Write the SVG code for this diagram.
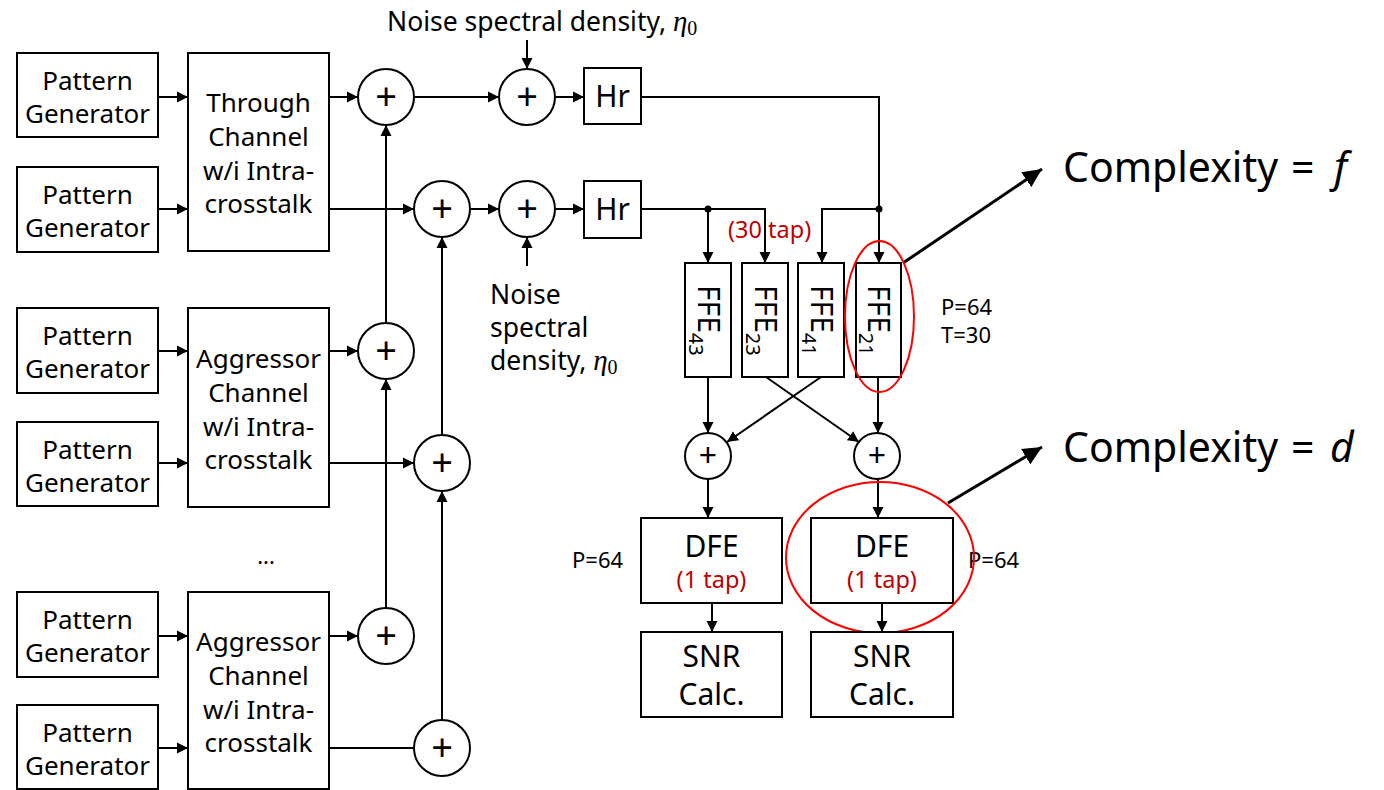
<svg xmlns="http://www.w3.org/2000/svg" width="1384" height="790" viewBox="0 0 1384 790">
<style>
text{font-family:"Noto Sans","Open Sans","DejaVu Sans",sans-serif;fill:#000}
.box{fill:#fff;stroke:#000;stroke-width:2}
.sum{fill:#fff;stroke:#000;stroke-width:2}
.t26{font-size:26px;text-anchor:middle}
.t30{font-size:30px;text-anchor:middle}
.plus{font-size:38px;text-anchor:middle}
.plusS{font-size:32px;text-anchor:middle}
.lbl{font-size:26.5px}
.red{fill:#C00000;font-size:23.5px}
.p{font-size:22px}
.ln{fill:none;stroke:#000;stroke-width:2}
.arr{marker-end:url(#ah)}
.big{fill:none;stroke:#000;stroke-width:3;marker-end:url(#ahb)}
.ell{fill:none;stroke:#FF0000;stroke-width:2}
.eta{font-family:"Liberation Serif","DejaVu Serif",serif;font-style:italic;font-size:29px}
.sub0{font-family:"Liberation Serif","DejaVu Serif",serif;font-size:20px}
.cx{font-size:41px}
</style>
<defs>
<marker id="ah" markerUnits="userSpaceOnUse" markerWidth="12" markerHeight="12" refX="11" refY="6" orient="auto">
<path d="M0,0.5 L11,6 L0,11.5 z" fill="#000"/>
</marker>
<marker id="ahb" markerUnits="userSpaceOnUse" markerWidth="20" markerHeight="18" refX="19" refY="9" orient="auto">
<path d="M0,0 L19,9 L0,18 z" fill="#000"/>
</marker>
</defs>

<g id="connectors">
<line class="ln arr" x1="158" y1="97" x2="188" y2="97"/>
<line class="ln arr" x1="158" y1="209" x2="188" y2="209"/>
<line class="ln arr" x1="158" y1="351" x2="188" y2="351"/>
<line class="ln arr" x1="158" y1="463" x2="188" y2="463"/>
<line class="ln arr" x1="158" y1="636" x2="188" y2="636"/>
<line class="ln arr" x1="158" y1="748" x2="188" y2="748"/>
<line class="ln arr" x1="329" y1="97" x2="358" y2="97"/>
<line class="ln arr" x1="329" y1="209" x2="414" y2="209"/>
<line class="ln arr" x1="329" y1="351" x2="358" y2="351"/>
<line class="ln arr" x1="329" y1="463" x2="414" y2="463"/>
<line class="ln arr" x1="329" y1="636" x2="358" y2="636"/>
<line class="ln" x1="329" y1="748" x2="414" y2="748"/>
<line class="ln arr" x1="386" y1="323" x2="386" y2="125"/>
<line class="ln arr" x1="386" y1="608" x2="386" y2="379"/>
<line class="ln arr" x1="442" y1="435" x2="442" y2="237"/>
<line class="ln arr" x1="442" y1="720" x2="442" y2="491"/>
<line class="ln arr" x1="414" y1="97" x2="499" y2="97"/>
<line class="ln arr" x1="470" y1="209" x2="499" y2="209"/>
<line class="ln arr" x1="527" y1="40" x2="527" y2="69"/>
<line class="ln arr" x1="527" y1="266" x2="527" y2="237"/>
<line class="ln arr" x1="555" y1="97" x2="584" y2="97"/>
<line class="ln arr" x1="555" y1="209" x2="584" y2="209"/>
<path class="ln arr" d="M641,97 H879 V263"/>
<path class="ln arr" d="M641,209 H708 V263"/>
<path class="ln arr" d="M708,209 H765 V263"/>
<path class="ln arr" d="M879,209 H822 V263"/>
<circle cx="708" cy="209" r="3.5" fill="#000"/>
<circle cx="879" cy="209" r="3.5" fill="#000"/>
<line class="ln arr" x1="708" y1="377" x2="708" y2="433"/>
<line class="ln arr" x1="878" y1="377" x2="878" y2="433"/>
<line class="ln arr" x1="766" y1="377" x2="859" y2="442"/>
<line class="ln arr" x1="821" y1="377" x2="727" y2="442"/>
<line class="ln arr" x1="708" y1="479" x2="708" y2="518"/>
<line class="ln arr" x1="878" y1="479" x2="878" y2="518"/>
<line class="ln arr" x1="712" y1="603" x2="712" y2="632"/>
<line class="ln arr" x1="882" y1="603" x2="882" y2="632"/>
<line class="big" x1="903" y1="263" x2="1042" y2="169"/>
<line class="big" x1="948" y1="503" x2="1042" y2="447"/>
</g>

<g id="pg1"><rect class="box" x="17" y="53" width="141" height="84"/><text class="t26" x="87.5" y="89.5">Pattern</text><text class="t26" x="87.5" y="122.5">Generator</text></g>
<g id="pg2"><rect class="box" x="17" y="167" width="141" height="85"/><text class="t26" x="87.5" y="204">Pattern</text><text class="t26" x="87.5" y="237">Generator</text></g>
<g id="pg3"><rect class="box" x="17" y="308" width="141" height="85"/><text class="t26" x="87.5" y="345">Pattern</text><text class="t26" x="87.5" y="378">Generator</text></g>
<g id="pg4"><rect class="box" x="17" y="422" width="141" height="84"/><text class="t26" x="87.5" y="458.5">Pattern</text><text class="t26" x="87.5" y="491.5">Generator</text></g>
<g id="pg5"><rect class="box" x="17" y="592" width="141" height="85"/><text class="t26" x="87.5" y="629">Pattern</text><text class="t26" x="87.5" y="662">Generator</text></g>
<g id="pg6"><rect class="box" x="17" y="705" width="141" height="84"/><text class="t26" x="87.5" y="741.5">Pattern</text><text class="t26" x="87.5" y="774.5">Generator</text></g>

<g id="through"><rect class="box" x="188" y="53" width="141" height="198"/>
<text class="t26" x="258.5" y="112">Through</text><text class="t26" x="258.5" y="146">Channel</text><text class="t26" x="258.5" y="180">w/i Intra-</text><text class="t26" x="258.5" y="213">crosstalk</text></g>
<g id="aggr1"><rect class="box" x="188" y="308" width="141" height="199"/>
<text class="t26" x="258.5" y="367.5">Aggressor</text><text class="t26" x="258.5" y="401.5">Channel</text><text class="t26" x="258.5" y="435.5">w/i Intra-</text><text class="t26" x="258.5" y="468.5">crosstalk</text></g>
<g id="aggr2"><rect class="box" x="188" y="592" width="141" height="197"/>
<text class="t26" x="258.5" y="650.5">Aggressor</text><text class="t26" x="258.5" y="684.5">Channel</text><text class="t26" x="258.5" y="718.5">w/i Intra-</text><text class="t26" x="258.5" y="751.5">crosstalk</text></g>

<text id="dots" x="266" y="564" font-size="22" text-anchor="middle">...</text>

<g id="sum1"><circle class="sum" cx="386" cy="97" r="28"/><text class="plus" x="386" y="110">+</text></g>
<g id="sum2"><circle class="sum" cx="442" cy="209" r="28"/><text class="plus" x="442" y="222">+</text></g>
<g id="sum3"><circle class="sum" cx="386" cy="351" r="28"/><text class="plus" x="386" y="364">+</text></g>
<g id="sum4"><circle class="sum" cx="442" cy="463" r="28"/><text class="plus" x="442" y="476">+</text></g>
<g id="sum5"><circle class="sum" cx="386" cy="636" r="28"/><text class="plus" x="386" y="649">+</text></g>
<g id="sum6"><circle class="sum" cx="442" cy="748" r="28"/><text class="plus" x="442" y="761">+</text></g>
<g id="noise1"><circle class="sum" cx="527" cy="97" r="28"/><text class="plus" x="527" y="110">+</text></g>
<g id="noise2"><circle class="sum" cx="527" cy="209" r="28"/><text class="plus" x="527" y="222">+</text></g>

<text id="noise-top" class="lbl" x="387" y="31">Noise spectral density, <tspan class="eta">η</tspan><tspan class="sub0" dy="4">0</tspan></text>
<g id="noise-bottom">
<text class="lbl" x="490" y="304">Noise</text>
<text class="lbl" x="490" y="337">spectral</text>
<text class="lbl" x="490" y="370">density, <tspan class="eta">η</tspan><tspan class="sub0" dy="4">0</tspan></text>
</g>

<g id="hr1"><rect class="box" x="584" y="68" width="57" height="56"/><text class="t30" x="612.5" y="107">Hr</text></g>
<g id="hr2"><rect class="box" x="584" y="181" width="57" height="57"/><text class="t30" x="612.5" y="220">Hr</text></g>

<text id="tap30" class="red" x="728" y="238">(30 tap)</text>

<g id="ffe43"><rect class="box" x="685" y="263" width="46" height="114"/>
<text transform="translate(698,285) rotate(90)" font-size="30">FFE<tspan font-size="20" dy="9">43</tspan></text></g>
<g id="ffe23"><rect class="box" x="742" y="263" width="46" height="114"/>
<text transform="translate(755,285) rotate(90)" font-size="30">FFE<tspan font-size="20" dy="9">23</tspan></text></g>
<g id="ffe41"><rect class="box" x="798" y="263" width="46" height="114"/>
<text transform="translate(811,285) rotate(90)" font-size="30">FFE<tspan font-size="20" dy="9">41</tspan></text></g>
<g id="ffe21"><rect class="box" x="856" y="263" width="45" height="114"/>
<text transform="translate(868,285) rotate(90)" font-size="30">FFE<tspan font-size="20" dy="9">21</tspan></text></g>

<ellipse id="ell-ffe" class="ell" cx="879.5" cy="316.5" rx="34.5" ry="75.5"/>

<g id="ffe-params"><text class="p" x="941" y="315">P=64</text><text class="p" x="941" y="343">T=30</text></g>

<g id="sumL"><circle class="sum" cx="708" cy="456" r="23"/><text class="plusS" x="708" y="467">+</text></g>
<g id="sumR"><circle class="sum" cx="877" cy="456" r="23"/><text class="plusS" x="877" y="467">+</text></g>

<g id="dfe1"><rect class="box" x="641" y="518" width="141" height="85"/><text class="t30" x="711.5" y="557">DFE</text><text class="red" x="711.5" y="588" text-anchor="middle">(1 tap)</text></g>
<g id="dfe2"><rect class="box" x="811" y="518" width="142" height="85"/><text class="t30" x="882" y="557">DFE</text><text class="red" x="882" y="588" text-anchor="middle">(1 tap)</text></g>
<text id="p64-left" class="p" x="572" y="568">P=64</text>
<text id="p64-right" class="p" x="968" y="568">P=64</text>
<ellipse id="ell-dfe" class="ell" cx="880" cy="557.5" rx="94" ry="75.5"/>

<g id="snr1"><rect class="box" x="641" y="632" width="141" height="85"/><text class="t30" x="711.5" y="667">SNR</text><text class="t30" x="711.5" y="705">Calc.</text></g>
<g id="snr2"><rect class="box" x="811" y="632" width="142" height="85"/><text class="t30" x="882" y="667">SNR</text><text class="t30" x="882" y="705">Calc.</text></g>

<text id="cplx-f" class="cx" x="1063" y="182">Complexity<tspan x="1291">=</tspan><tspan x="1334" font-style="italic">f</tspan></text>
<text id="cplx-d" class="cx" x="1063" y="462">Complexity<tspan x="1291">=</tspan><tspan x="1330" font-style="italic">d</tspan></text>
</svg>
